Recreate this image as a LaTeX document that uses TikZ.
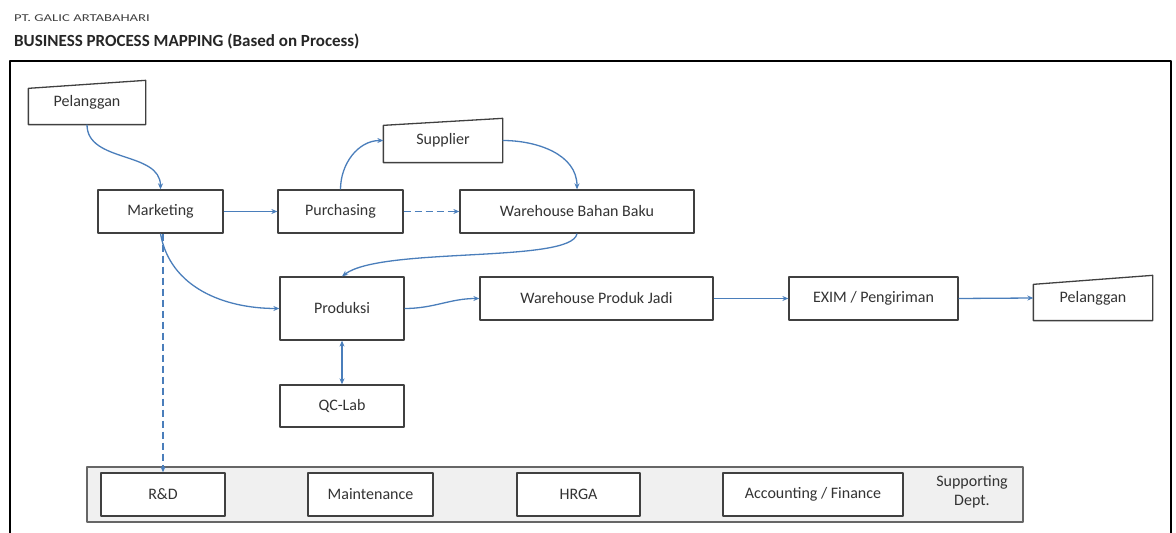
\documentclass[tikz,border=0pt]{standalone}
\usepackage{graphicx}
\usepackage{fontspec}
\setmainfont{Carlito}
\usetikzlibrary{arrows.meta}
\definecolor{flowblue}{RGB}{74,126,187}
\definecolor{boxline}{RGB}{64,64,64}
\definecolor{bandfill}{RGB}{240,240,240}

\begin{document}
\begin{tikzpicture}[x=1pt, y=1pt, line join=round,
    box/.style={draw=boxline, line width=1.3pt, minimum height=43pt, inner sep=0pt,
      text=black!80, font=\fontsize{16}{19}\selectfont},
    inbox/.style={box, draw=none},
    flow/.style={flowblue, line width=1.3pt, -{Stealth[length=6pt,width=5pt]}},
    dflow/.style={flow, dash pattern=on 7pt off 4pt}]
  \useasboundingbox (0,0) rectangle (1176,533);
  % heading
  \node[anchor=base west, inner sep=0pt, text=black!75] (firm) at (14,511)
    {\scalebox{1.4}[1]{\fontsize{10.5}{12}\selectfont PT. GALIC ARTABAHARI}};
  \node[anchor=base west, inner sep=0pt, text=black!85] (title) at (14,486)
    {\fontsize{17}{20}\selectfont\bfseries BUSINESS PROCESS MAPPING (Based on Process)};
  \draw[line width=2.5pt] (10,0) -- (10,472) -- (1171,472) -- (1171,0);

  % main flow
  \node[inbox, minimum width=116pt] (pel1) at (87,430.5) {Pelanggan};
  \node[box, minimum width=125pt] (mkt) at (160.5,321.5) {Marketing};
  \node[box, minimum width=125pt] (pur) at (340.5,321.5) {Purchasing};
  \node[inbox, minimum width=118pt] (sup) at (443,392.5) {Supplier};
  \node[box, minimum width=234pt] (wbb) at (577,321.5) {Warehouse Bahan Baku};
  \node[box, minimum width=124pt, minimum height=63pt] (prd) at (342,224.5) {Produksi};
  \node[box, minimum width=124pt, minimum height=42pt] (qc) at (342,127) {QC-Lab};
  \node[box, minimum width=233pt] (wpj) at (596.5,234.5) {Warehouse Produk Jadi};
  \node[box, minimum width=169pt] (exim) at (873.5,234.5) {EXIM / Pengiriman};
  \node[inbox, minimum width=118pt, minimum height=44pt] (pel2) at (1093,235) {Pelanggan};
  \draw[boxline, line width=1.3pt] (pel1.south west) -- (pel1.south east) -- (pel1.north east) -- ([yshift=-8pt]pel1.north west) -- cycle;
  \draw[boxline, line width=1.3pt] (sup.south west) -- (sup.south east) -- (sup.north east) -- ([yshift=-7pt]sup.north west) -- cycle;
  \draw[boxline, line width=1.3pt] (pel2.south west) -- (pel2.south east) -- (pel2.north east) -- ([yshift=-9pt]pel2.north west) -- cycle;

  % supporting departments
  \node[box, draw=black!60, fill=bandfill, minimum width=936pt, minimum height=55pt] (band) at (555,38.5) {};
  \node[box, fill=white, minimum width=124pt] (rnd) at (163,38.5) {R\&D};
  \node[box, fill=white, minimum width=125pt] (mnt) at (370.5,38.5) {Maintenance};
  \node[box, fill=white, minimum width=123pt] (hrga) at (578.5,38.5) {HRGA};
  \node[box, fill=white, minimum width=180pt] (acc) at (813,38.5) {Accounting / Finance};
  \node[text=black!80, align=center, inner sep=0pt, font=\fontsize{16}{19}\selectfont] (sdept) at (972,41) {Supporting\\Dept.};

  % connectors
  \draw[flow] (pel1.south) to[out=-90, in=90] (mkt.north);
  \draw[flow] (mkt.east) -- (pur.west);
  \draw[flow] (pur.north) to[out=90, in=180] (sup.west);
  \draw[flow] (sup.east) to[out=0, in=90] (wbb.north);
  \draw[dflow] (pur.east) -- (wbb.west);
  \draw[flow] (wbb.south) .. controls +(-5,-30) and +(40,30) .. (prd.north);
  \draw[flow] (mkt.south) to[out=-80, in=180] (prd.west);
  \draw[flow] (prd.east) to[out=0, in=180] (wpj.west);
  \draw[flow, {Stealth[length=6pt,width=5pt]}-{Stealth[length=6pt,width=5pt]}] (prd.south) -- (qc.north);
  \draw[flow] (wpj.east) -- (exim.west);
  \draw[flow] (exim.east) -- (pel2.west);
  \draw[dflow] (rnd.north |- mkt.south) -- (rnd.north);
\end{tikzpicture}
\end{document}
